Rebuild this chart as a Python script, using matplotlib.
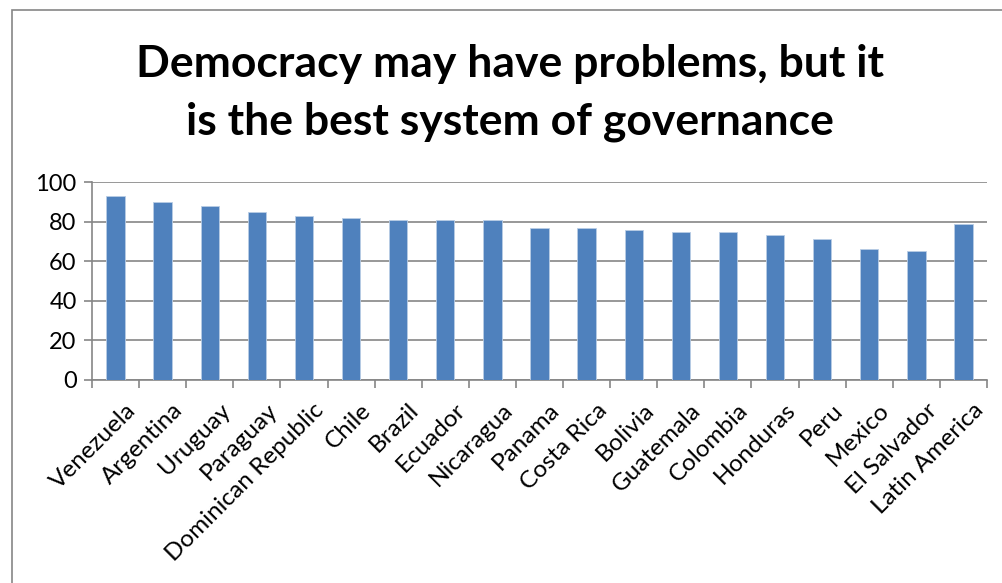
import numpy as np
import matplotlib.pyplot as plt
from matplotlib.patches import Rectangle

countries = ['Venezuela', 'Argentina', 'Uruguay', 'Paraguay', 'Dominican Republic',
             'Chile', 'Brazil', 'Ecuador', 'Nicaragua', 'Panama', 'Costa Rica',
             'Bolivia', 'Guatemala', 'Colombia', 'Honduras', 'Peru', 'Mexico',
             'El Salvador', 'Latin America']
support = [93, 90, 88, 85, 83, 82, 81, 81, 81, 77, 77, 76, 75, 75, 73, 71, 66, 65, 79]

plt.rcParams['font.family'] = ['Lato', 'DejaVu Sans']

fig = plt.figure(figsize=(10.03, 5.83), dpi=100)
ax = fig.add_axes([92 / 1003, 1 - 380 / 583, 895 / 1003, 198 / 583])

# outer chart frame
fig.patches.append(Rectangle((12 / 1003, -0.1), 1.2, 1.1 - 10 / 583, transform=fig.transFigure,
                             fill=False, edgecolor='#868686', linewidth=1.2))

x = np.arange(len(countries))
ax.bar(x, support, width=0.39, color='#4F81BD', edgecolor='#B9CDE5', linewidth=0.6, zorder=3)

ax.set_xlim(-0.5, len(countries) - 0.5)
ax.set_ylim(0, 100)
ax.set_yticks(np.arange(0, 101, 20))
ax.yaxis.grid(True, color='#868686', linewidth=1.2, zorder=0)
ax.tick_params(axis='y', labelsize=17, length=6, color='#868686', width=1.2, pad=5)

ax.set_xticks(x + 0.2)
ax.set_xticklabels(countries, rotation=45, ha='right', rotation_mode='anchor', fontsize=17.5)
ax.tick_params(axis='x', which='major', length=0, pad=14)
ax.set_xticks(np.arange(-0.5, len(countries)), minor=True)
ax.tick_params(axis='x', which='minor', length=6, color='#868686', width=1.2)

for s in ['top', 'right']:
    ax.spines[s].set_visible(False)
for s in ['left', 'bottom']:
    ax.spines[s].set_color('#868686')
    ax.spines[s].set_linewidth(1.2)

fig.text(510 / 1003, 1 - 93 / 583, 'Democracy may have problems, but it\nis the best system of governance',
         ha='center', va='center', fontsize=32, fontweight='bold', linespacing=1.5)

fig.savefig('out.png', dpi=100)
